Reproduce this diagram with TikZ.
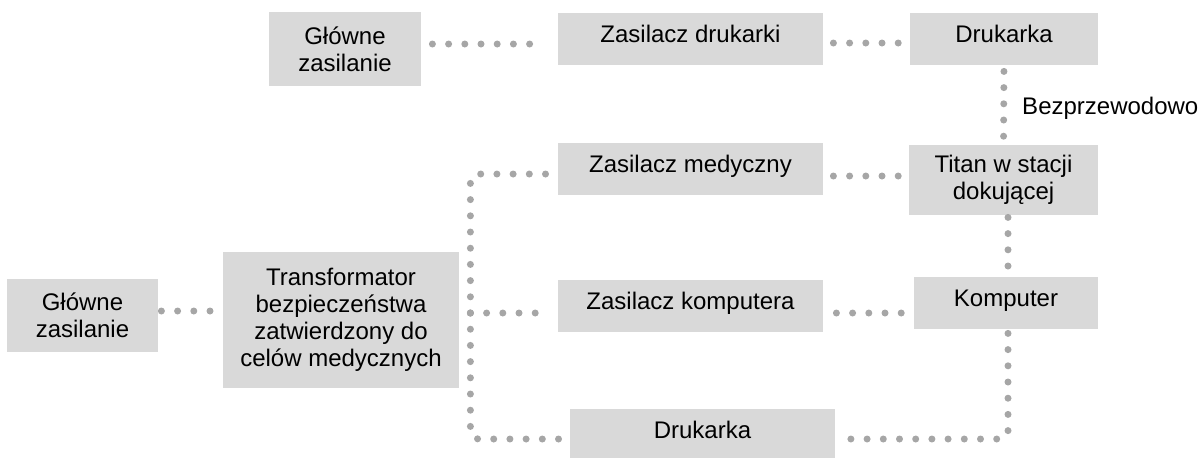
\documentclass[tikz,border=0pt]{standalone}
\usepackage{fontspec}
\setmainfont{Liberation Sans}
\usetikzlibrary{calc,positioning}

\definecolor{boxgray}{HTML}{D9D9D9}
\definecolor{dotgray}{HTML}{A6A6A6}

\tikzset{
  box/.style={fill=boxgray, inner sep=0pt, align=center, font=\fontsize{12}{13.5}\selectfont},
  onebox/.style={box, text height=0.73em, text depth=0.4em},
  link/.style={draw=dotgray, line width=3.5pt, line cap=round, dash pattern=on 0pt off 8.1pt},
  lbl/.style={inner sep=0pt, font=\fontsize{12}{13.5}\selectfont}
}

\begin{document}
\begin{tikzpicture}[x=0.5pt,y=0.5pt,yscale=-1]
\useasboundingbox (0,0) rectangle (1198,457);

% top row
\node[box, minimum width=76pt, minimum height=37pt] (g1) at (345,49) {Główne\\zasilanie};
\node[onebox, minimum width=132.5pt, minimum height=26pt] (zd) at (690.5,39) {Zasilacz drukarki};
\node[onebox, minimum width=94pt, minimum height=26pt] (dr1) at (1004,39) {Drukarka};

% middle
\node[onebox, minimum width=132.5pt, minimum height=26pt] (zm) at (690.5,169) {Zasilacz medyczny};
\node[box, minimum width=94.5pt, minimum height=35pt] (titan) at (1003.5,180) {Titan w stacji\\dokującej};
\node[onebox, minimum width=132.5pt, minimum height=26pt] (zk) at (690.5,306) {Zasilacz komputera};
\node[onebox, minimum width=92pt, minimum height=26pt] (komp) at (1006,303) {Komputer};

% left side + bottom
\node[box, minimum width=75.5pt, minimum height=36.5pt] (g2) at (82.5,315.5) {Główne\\zasilanie};
\node[box, minimum width=118pt, minimum height=68pt] (tr) at (341,320) {Transformator\\bezpieczeństwa\\zatwierdzony do\\celów medycznych};
\node[onebox, minimum width=132.5pt, minimum height=26pt] (dr2) at (702.5,435) {Drukarka};

% connectors
\draw[link, shorten <=5.5pt, shorten >=12.5pt] ($(g1.east)+(0,-5)$) -- ($(zd.west)+(0,5)$);
\draw[link, shorten <=5pt, shorten >=5pt] ($(zd.east)+(0,4)$) -- ($(dr1.west)+(0,4)$);
\draw[link, shorten <=3pt, shorten >=3.5pt] (dr1.south) -- (titan.north)
  node[lbl, pos=0.54, right=7.5pt] (bezp) {Bezprzewodowo};
\draw[link, shorten <=5pt, shorten >=4.5pt] ($(zm.east)+(0,7)$) -- ($(titan.west)+(0,-4)$);
\draw[link, shorten <=1pt, shorten >=3pt] ($(titan.south)+(4.5,0)$) -- ($(komp.north)+(2,0)$);
\draw[link, shorten <=6.5pt, shorten >=5.5pt] ($(zk.east)+(0,7)$) -- ($(komp.west)+(0,10)$);
\draw[link, rounded corners=4pt, shorten <=2pt] ($(komp.south)+(2,0)$) |- ($(dr2.east)+(0,4)$);
\draw[link, shorten <=1.5pt, shorten >=5.5pt] ($(g2.east)+(0,-4.5)$) -- ($(tr.west)+(0,-9)$);

% branches out of the transformer
\draw[link, rounded corners=4pt] ($(tr.east)+(11,-7)$) |- ($(zm.west)+(0,5)$);
\draw[link, shorten >=4pt] ($(tr.east)+(11,-7)$) -- ($(zk.west)+(0,7)$);
\draw[link, rounded corners=4pt] ($(tr.east)+(11,-7)$) |- ($(dr2.west)+(0,4)$);
\end{tikzpicture}
\end{document}
